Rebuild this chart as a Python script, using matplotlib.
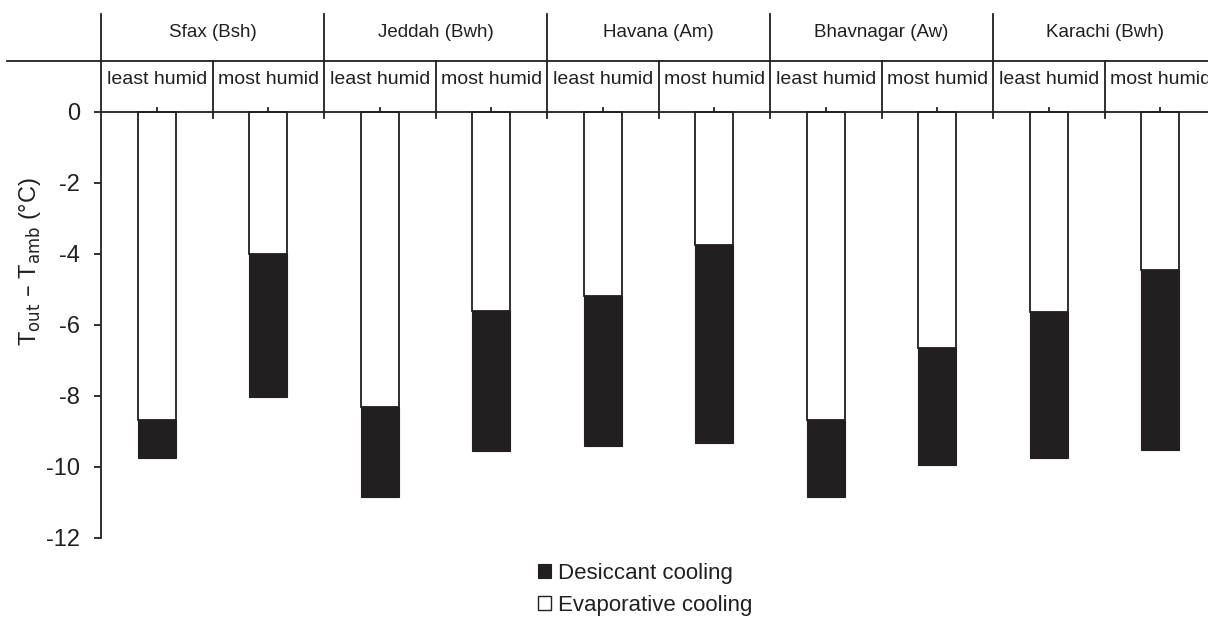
import matplotlib
matplotlib.use("Agg")
import matplotlib.pyplot as plt
from matplotlib.patches import Patch
from matplotlib.lines import Line2D

plt.rcParams['font.family'] = ['Liberation Sans', 'DejaVu Sans']

cities = ["Sfax (Bsh)", "Jeddah (Bwh)", "Havana (Am)", "Bhavnagar (Aw)", "Karachi (Bwh)"]
conditions = ["least humid", "most humid"]
# Evaporative cooling (white bar end), desiccant cooling total (black bar end)
evaporative = [-8.69, -3.99, -8.31, -5.60, -5.19, -3.75, -8.69, -6.65, -5.64, -4.44]
desiccant = [-9.75, -8.04, -10.85, -9.55, -9.42, -9.33, -10.85, -9.93, -9.75, -9.51]
yticks = [0, -2, -4, -6, -8, -10, -12]

INK = '#231f20'
W, H = 1208, 623
fig = plt.figure(figsize=(W / 100, H / 100), dpi=100)
ax = fig.add_axes([101 / W, 1 - 538 / H, 1 - 101 / W, (538 - 14) / H])

n = len(evaporative)
xs = list(range(n))
bw = 0.345
ax.bar(xs, evaporative, width=bw, color='white', edgecolor=INK, linewidth=1.3, zorder=2)
ax.bar(xs, [d - e for d, e in zip(desiccant, evaporative)], bottom=evaporative, width=bw,
       color=INK, edgecolor=INK, linewidth=0.8, zorder=3)

ytop = 2.76
ax.set_ylim(-12, ytop)
ax.set_xlim(-0.5, -0.5 + (W - 101) / 111.5)

for s in ['top', 'right', 'bottom']:
    ax.spines[s].set_visible(False)
ax.spines['left'].set_linewidth(1.3)
ax.spines['left'].set_color(INK)
ax.spines['left'].set_bounds(-12, ytop)
ax.set_yticks(yticks)
ax.set_yticklabels([str(v) for v in yticks], fontsize=17, color=INK)
ax.tick_params(axis='y', direction='out', length=5, width=1.3, color=INK, pad=10)
ax.set_xticks([])

# zero line
ax.axhline(0, color=INK, linewidth=1.3, zorder=4)

header_y = (112 - 61) / 35.5
below = -0.17
# slot separators and group separators
for k in range(n):
    xb = k + 0.5
    if k % 2 == 0:
        ax.plot([xb, xb], [below, header_y], color=INK, linewidth=1.3, clip_on=False, zorder=4)
    else:
        ax.plot([xb, xb], [below, ytop], color=INK, linewidth=1.3, clip_on=False, zorder=4)
    # small tick at slot center
    ax.plot([k, k], [0, 0.11], color=INK, linewidth=1.3, zorder=4)

# header labels
for g, city in enumerate(cities):
    ax.text(2 * g + 0.5, (112 - 33) / 35.5, city, ha='center', va='center',
            fontsize=13.5, color=INK)
for k in range(n):
    ax.text(k, (112 - 80) / 35.5, conditions[k % 2], ha='center', va='center',
            fontsize=14, color=INK)

# header horizontal line spanning figure
fig.add_artist(Line2D([7 / W, 1.0], [1 - 61 / H, 1 - 61 / H], color=INK, linewidth=1.3,
                      transform=fig.transFigure))

# y label
fig.text(30 / W, 1 - 262 / H, r'T$_{\mathrm{out}}$ – T$_{\mathrm{amb}}$ (°C)', rotation=90,
         ha='center', va='center', fontsize=17, color=INK)

handles = [Patch(facecolor=INK, edgecolor=INK, linewidth=0.8),
           Patch(facecolor='white', edgecolor=INK, linewidth=1.0)]
fig.legend(handles, ["Desiccant cooling", "Evaporative cooling"], loc='center',
           bbox_to_anchor=(645 / W, 1 - 589.5 / H), frameon=False, fontsize=16,
           handlelength=0.6, handleheight=0.6, handletextpad=0.3, labelspacing=0.5,
           borderpad=0, labelcolor=INK)

fig.savefig('out.png', dpi=100)
